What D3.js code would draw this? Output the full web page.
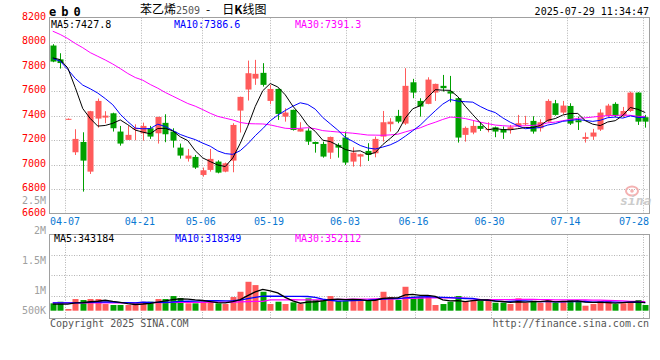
<!DOCTYPE html>
<html><head><meta charset="utf-8">
<script src="https://cdn.jsdelivr.net/npm/d3@7"></script>
<style>
body{margin:0;background:#fff;}
svg text{font-family:"DejaVu Sans Mono","Liberation Mono",monospace;}
</style></head><body>
<svg id="c" width="660" height="360"></svg>
<script>
// ---------- data ----------
const dates = ["04-02","04-03","04-07","04-08","04-09","04-10","04-11","04-14","04-15","04-16",
"04-17","04-18","04-21","04-22","04-23","04-24","04-25","04-28","04-29","04-30",
"05-06","05-07","05-08","05-09","05-12","05-13","05-14","05-15","05-16","05-19",
"05-20","05-21","05-22","05-23","05-26","05-27","05-28","05-29","05-30","06-03",
"06-04","06-05","06-06","06-09","06-10","06-11","06-12","06-13","06-16","06-17",
"06-18","06-19","06-20","06-23","06-24","06-25","06-26","06-27","06-30","07-01",
"07-02","07-03","07-04","07-07","07-08","07-09","07-10","07-11","07-14","07-15",
"07-16","07-17","07-18","07-21","07-22","07-23","07-24","07-25","07-28","07-29"];
const opens = [7973,7860,7368,7102,7186,6944,7377,7385,7420,7271,
7203,7290,7257,7298,7257,7342,7271,7140,7050,7064,
6917,6958,7026,6944,7034,7442,7614,7703,7750,7521,
7619,7393,7448,7271,7279,7186,7170,7099,7162,7222,
7026,7067,7113,7094,7230,7331,7399,7336,7673,7521,
7497,7589,7644,7600,7543,7244,7263,7317,7284,7306,
7290,7287,7312,7333,7358,7298,7352,7502,7426,7480,
7363,7211,7230,7287,7399,7497,7399,7439,7589,7388];
const highs = [7984,7910,7378,7290,7265,7440,7540,7437,7425,7317,
7317,7330,7344,7317,7392,7412,7298,7173,7129,7080,
6977,7129,7037,7018,7339,7556,7850,7856,7829,7652,
7622,7461,7450,7347,7298,7189,7189,7230,7176,7271,
7143,7090,7176,7230,7439,7380,7448,7788,7701,7543,
7714,7662,7733,7725,7548,7312,7358,7347,7347,7312,
7312,7325,7407,7399,7396,7371,7535,7529,7521,7502,
7393,7263,7293,7453,7497,7510,7472,7597,7592,7407];
const lows = [7837,7785,7366,7080,6781,6925,7303,7339,7271,7156,
7203,7200,7197,7211,7173,7184,7140,7050,7026,6966,
6903,6944,6930,6939,6939,7263,7524,7652,7638,7494,
7366,7352,7279,7271,7162,7099,7058,7048,7058,6999,
6985,6985,7031,7061,7189,7271,7339,7325,7543,7393,
7494,7521,7597,7510,7181,7189,7249,7276,7265,7225,
7211,7254,7306,7320,7254,7271,7347,7401,7412,7325,
7284,7181,7203,7276,7390,7388,7388,7431,7325,7303];
const closes = [7842,7830,7375,7211,7034,7437,7521,7401,7298,7173,
7244,7300,7317,7230,7390,7249,7197,7075,7075,6977,
6955,7048,6936,7012,7325,7554,7747,7742,7652,7619,
7415,7426,7284,7293,7189,7170,7067,7227,7140,7018,
7099,7086,7080,7211,7347,7352,7352,7644,7589,7475,
7695,7660,7625,7581,7222,7301,7317,7293,7293,7271,
7263,7306,7339,7339,7271,7347,7521,7407,7483,7336,
7347,7227,7263,7426,7483,7399,7439,7589,7352,7352];
const volumes = [317000,356000,178000,422000,398000,422000,422000,300000,276000,276000,
276000,317000,356000,356000,422000,422000,495000,446000,317000,317000,
356000,356000,317000,300000,471000,600000,844000,763000,600000,300000,
356000,300000,341000,300000,439000,398000,398000,495000,373000,373000,
422000,373000,373000,422000,600000,471000,398000,722000,478000,478000,
478000,276000,300000,356000,495000,373000,398000,373000,373000,332000,
332000,300000,439000,332000,381000,332000,398000,332000,373000,398000,
373000,259000,300000,373000,373000,300000,317000,373000,398000,276000];
// moving-average values before enough history is on screen
const ma5Lead  = [7872,7858,7790,7630];
const ma10Lead = [7868,7845,7778,7705,7650,7620,7585,7540,7490];
const ma30Lead = [8090,8063,8030,7990,7955,7915,7885,7855,7822,7785,
7745,7712,7690,7655,7625,7590,7560,7530,7500,7478,
7450,7420,7395,7380,7366,7345,7336,7334,7333];
const vma5Lead  = [300000,300000,300000,330000];
const vma10Lead = [330000,330000,330000,330000,335000,340000,345000,350000,350000];
const vma30Lead = [330000,330000,330000,330000,330000,330000,330000,330000,330000,330000,
330000,330000,330000,335000,335000,335000,340000,340000,340000,340000,
340000,345000,345000,345000,350000,355000,360000,365000,365000];
const priceTicks = [8200,8000,7800,7600,7400,7200,7000,6800,6600];
const priceGrid = [8000,7800,7600,7400,7200,7000,6800];
const volTickLabels = [["2.5M",2500000],["2M",2000000],["1.5M",1500000],["1M",1000000],["500K",500000]];
const volGrid = [1500000,1000000,500000];
const dateTicks = ["04-07","04-21","05-06","05-19","06-03","06-16","06-30","07-14","07-28"];
const legendMain = ["MA5:7427.8","MA10:7386.6","MA30:7391.3"];
const legendVol = ["MA5:343184","MA10:318349","MA30:352112"];
const volFloor = 137000;

// ---------- styles ----------
const RED="#ff5b5b", GREEN="#00a000", GRID="#b4b4b4", FRAME="#a0a0a0";
const L=49, R=649, T=17.7, B=213.8, VT=234.5, VB=316.3;
const n = dates.length;

const svg = d3.select("#c");
const x = d3.scaleBand().domain(d3.range(n)).range([L,R]);
const cx = i => x(i) + x.bandwidth()/2;
const xGrid = d3.scaleLinear().domain([0,n]).range([L+1, L+1+n*7.6]);
const y = d3.scaleLinear().domain([6600,8200]).range([B,T]);
const yv = d3.scaleLinear().domain([0,2000000]).range([VB,VT]);
const yvLab = d3.scaleLinear().domain([1000000,2500000]).range([290.8,200.7]);

function ma(arr, p, lead){
  return arr.map((v,i)=> i < p-1 ? lead[i] : d3.mean(arr.slice(i-p+1,i+1)));
}
const ma5=ma(closes,5,ma5Lead), ma10=ma(closes,10,ma10Lead), ma30=ma(closes,30,ma30Lead);
const vma5=ma(volumes,5,vma5Lead), vma10=ma(volumes,10,vma10Lead), vma30=ma(volumes,30,vma30Lead);

const defs = svg.append("defs");
defs.append("clipPath").attr("id","cm").append("rect").attr("x",L).attr("y",T).attr("width",R-L).attr("height",B-T);
defs.append("clipPath").attr("id","cv").append("rect").attr("x",L).attr("y",VT).attr("width",R-L).attr("height",318-VT);

const dateIdx = dateTicks.map(d=>dates.indexOf(d));

// grids
const g = svg.append("g");
g.selectAll(".hg").data(priceGrid).join("line")
 .attr("x1",L).attr("x2",R).attr("y1",d=>Math.round(y(d))+0.5).attr("y2",d=>Math.round(y(d))+0.5)
 .attr("stroke",GRID).attr("stroke-dasharray","1,1.5");
g.selectAll(".vg").data(dateIdx.filter(i=>xGrid(i)<R-3)).join("line")
 .attr("x1",i=>Math.round(xGrid(i))+0.5).attr("x2",i=>Math.round(xGrid(i))+0.5).attr("y1",T).attr("y2",B)
 .attr("stroke",GRID).attr("stroke-dasharray","1,1.5");
g.selectAll(".hgv").data(volGrid).join("line")
 .attr("x1",L).attr("x2",R).attr("y1",d=>Math.round(yv(d))+0.5).attr("y2",d=>Math.round(yv(d))+0.5)
 .attr("stroke",GRID).attr("stroke-dasharray","1,1.5");
g.selectAll(".vgv").data(dateIdx.filter(i=>xGrid(i)<R-3)).join("line")
 .attr("x1",i=>Math.round(xGrid(i))+0.5).attr("x2",i=>Math.round(xGrid(i))+0.5).attr("y1",VT).attr("y2",318)
 .attr("stroke",GRID).attr("stroke-dasharray","1,1.5");

// candles
const cg = svg.append("g").attr("clip-path","url(#cm)");
const idx = d3.range(n);
const col = i => closes[i] >= opens[i] ? RED : GREEN;
cg.selectAll(".wick").data(idx).join("line")
 .attr("x1",i=>Math.round(cx(i))+0.5).attr("x2",i=>Math.round(cx(i))+0.5)
 .attr("y1",i=>y(highs[i])).attr("y2",i=>y(lows[i])).attr("stroke",col);
cg.selectAll(".body").data(idx).join("rect")
 .attr("x",i=>Math.round(cx(i))-2.5).attr("width",6)
 .attr("y",i=>y(Math.max(opens[i],closes[i])))
 .attr("height",i=>Math.max(1,y(Math.min(opens[i],closes[i]))-y(Math.max(opens[i],closes[i]))))
 .attr("fill",col);

// MA lines
const line = d3.line().x((d,i)=>cx(i)).y(d=>y(d));
[[ma30,"#ff00ff"],[ma10,"#0000ff"],[ma5,"#000000"]].forEach(([d,c])=>{
  cg.append("path").attr("d",line(d)).attr("fill","none").attr("stroke",c).attr("stroke-width",1);
});

// volume bars
const vg = svg.append("g").attr("clip-path","url(#cv)");
vg.selectAll(".vb").data(idx).join("rect")
 .attr("x",i=>Math.round(cx(i))-2.5).attr("width",6)
 .attr("y",i=>yv(volumes[i])).attr("height",i=>Math.max(0,yv(volFloor)-yv(volumes[i])))
 .attr("fill",col);
const vline = d3.line().x((d,i)=>cx(i)).y(d=>yv(d));
[[vma30,"#ff00ff"],[vma10,"#0000ff"],[vma5,"#000000"]].forEach(([d,c])=>{
  vg.append("path").attr("d",vline(d)).attr("fill","none").attr("stroke",c).attr("stroke-width",1.3);
});

// frames
svg.append("rect").attr("x",L+0.5).attr("y",17.5).attr("width",R-L).attr("height",196).attr("fill","none").attr("stroke",FRAME);
svg.append("rect").attr("x",L+0.5).attr("y",234.5).attr("width",R-L).attr("height",84).attr("fill","none").attr("stroke",FRAME);

// price labels
svg.selectAll(".pl").data(priceTicks).join("text")
 .attr("x",46).attr("y",d=>y(d)-1.5).attr("dy","0.36em").attr("text-anchor","end")
 .attr("font-size",10).attr("fill","#ff0000").text(d=>d);
// volume labels
const volLabY = v => Math.min(yvLab(v), yv(volFloor));
svg.selectAll(".vl").data(volTickLabels).join("text")
 .attr("x",46).attr("y",d=>volLabY(d[1])).attr("dy","0.36em").attr("text-anchor","end")
 .attr("font-size",10).attr("fill","#a0a0a0").text(d=>d[0]);
// date labels
svg.selectAll(".dl").data(dateIdx).join("text")
 .attr("x",i=>{const c=xGrid(i)-1.3; return Math.max(L+1+15, Math.min(R-15, c));})
 .attr("y",225).attr("text-anchor","middle").attr("font-size",10).attr("fill","#0a78d2")
 .text(i=>dates[i]);

// legends
const legC = ["#000000","#0000ff","#ff00ff"];
const legX = [51,174,295];
legendMain.forEach((t,i)=>svg.append("text").attr("x",legX[i]).attr("y",27.5).attr("font-size",10).attr("fill",legC[i]).text(t));
const legVX = [54,175,295];
legendVol.forEach((t,i)=>svg.append("text").attr("x",legVX[i]).attr("y",242).attr("font-size",10).attr("fill",legC[i]).text(t));

// header
svg.append("text").attr("x",49).attr("y",15.5).attr("font-size",12).attr("font-weight","bold")
 .attr("letter-spacing","5").attr("fill","#000").text("eb0");
const title = svg.append("text").attr("x",140).attr("y",14).attr("font-size",12);
title.append("tspan").attr("font-family","Noto Sans CJK SC").text("苯乙烯");
title.append("tspan").attr("fill","#555").attr("font-size",10).text("2509");
title.append("tspan").attr("font-family","Noto Sans CJK SC").attr("dx",6).text("-");
title.append("tspan").attr("font-family","Noto Sans CJK SC").attr("dx",12).text("日");
title.append("tspan").attr("font-family","Noto Sans CJK SC").attr("font-weight","bold").text("K");
title.append("tspan").attr("font-family","Noto Sans CJK SC").text("线图");
svg.append("text").attr("x",649).attr("y",15).attr("text-anchor","end").attr("font-size",10).attr("fill","#000").text("2025-07-29 11:34:47");

// footer
svg.append("text").attr("x",50).attr("y",327).attr("font-size",10).attr("fill","#555").text("Copyright 2025 SINA.COM");
svg.append("text").attr("x",649).attr("y",327).attr("text-anchor","end").attr("font-size",10).attr("fill","#555").text("http://finance.sina.com.cn");

// watermark
const wm = svg.append("g").attr("opacity",0.8);
wm.append("ellipse").attr("cx",632).attr("cy",191).attr("rx",6).attr("ry",4.5).attr("fill","none").attr("stroke","#f2a0a0").attr("stroke-width",2);
wm.append("circle").attr("cx",632).attr("cy",191).attr("r",1.8).attr("fill","#f2a0a0");
wm.append("text").attr("x",620).attr("y",205).attr("font-family","Liberation Sans, Arial, sans-serif").attr("font-size",13)
 .attr("font-weight","bold").attr("font-style","italic").attr("fill","#c0c0c0").text("sina");
</script>
</body></html>
